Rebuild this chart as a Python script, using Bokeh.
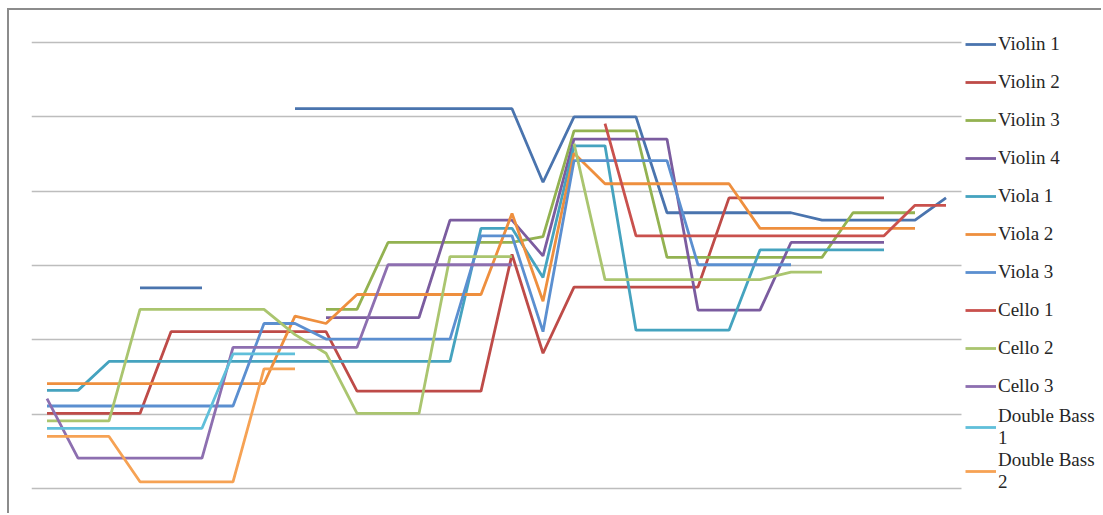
import numpy as np
from bokeh.plotting import figure
from bokeh.models import ColumnDataSource, Legend, LegendItem, FixedTicker, Range1d
from bokeh.embed import file_html
from bokeh.resources import INLINE

N = None

# Categories (points along the piece)
points = list(range(30))

# Series values (gaps = rests)
violin_1 = [N, N, N, 2.70, 2.70, 2.70, N, N, 5.11, 5.11,
            5.11, 5.11, 5.11, 5.11, 5.11, 5.11, 4.12, 5.00, 5.00, 5.00,
            3.71, 3.71, 3.71, 3.71, 3.71, 3.61, 3.61, 3.61, 3.61, 3.91]
violin_2 = [1.01, 1.01, 1.01, 1.01, 2.11, 2.11, 2.11, 2.11, 2.11, 2.11,
            1.31, 1.31, 1.31, 1.31, 1.31, 3.15, 1.82, 2.71, 2.71, 2.71,
            2.71, 2.71, 3.91, 3.91, 3.91, 3.91, 3.91, 3.91, N, N]
violin_3 = [N, N, N, N, N, N, N, N, N, 2.41,
            2.41, 3.31, 3.31, 3.31, 3.31, 3.31, 3.39, 4.81, 4.81, 4.81,
            3.11, 3.11, 3.11, 3.11, 3.11, 3.11, 3.71, 3.71, 3.71, N]
violin_4 = [N, N, N, N, N, N, N, N, N, 2.30,
            2.30, 2.30, 2.30, 3.61, 3.61, 3.61, 3.13, 4.70, 4.70, 4.70,
            4.70, 2.40, 2.40, 2.40, 3.31, 3.31, 3.31, 3.31, N, N]
viola_1 = [1.32, 1.32, 1.71, 1.71, 1.71, 1.71, 1.71, 1.71, 1.71, 1.71,
           1.71, 1.71, 1.71, 1.71, 3.50, 3.50, 2.84, 4.61, 4.61, 2.13,
           2.13, 2.13, 2.13, 3.21, 3.21, 3.21, 3.21, 3.21, N, N]
viola_2 = [1.41, 1.41, 1.41, 1.41, 1.41, 1.41, 1.41, 1.41, 2.32, 2.22,
           2.61, 2.61, 2.61, 2.61, 2.61, 3.70, 2.52, 4.51, 4.10, 4.10,
           4.10, 4.10, 4.10, 3.50, 3.50, 3.50, 3.50, 3.50, 3.50, N]
viola_3 = [1.11, 1.11, 1.11, 1.11, 1.11, 1.11, 1.11, 2.22, 2.22, 2.01,
           2.01, 2.01, 2.01, 2.01, 3.40, 3.40, 2.11, 4.41, 4.41, 4.41,
           4.41, 3.01, 3.01, 3.01, 3.01, N, N, N, N, N]
cello_1 = [N, N, N, N, N, N, N, N, N, N,
           N, N, N, N, N, N, N, N, 4.91, 3.40,
           3.40, 3.40, 3.40, 3.40, 3.40, 3.40, 3.40, 3.40, 3.81, 3.81]
cello_2 = [0.91, 0.91, 0.91, 2.41, 2.41, 2.41, 2.41, 2.41, 2.07, 1.82,
           1.01, 1.01, 1.01, 3.12, 3.12, 3.12, N, 4.64, 2.81, 2.81,
           2.81, 2.81, 2.81, 2.81, 2.91, 2.91, N, N, N, N]
cello_3 = [1.21, 0.41, 0.41, 0.41, 0.41, 0.41, 1.90, 1.90, 1.90, 1.90,
           1.90, 3.01, 3.01, 3.01, 3.01, 3.01, N, N, N, N,
           N, N, N, N, N, N, N, N, N, N]
double_bass_1 = [0.81, 0.81, 0.81, 0.81, 0.81, 0.81, 1.81, 1.81, 1.81, N,
                 N, N, N, N, N, N, N, N, N, N,
                 N, N, N, N, N, N, N, N, N, N]
double_bass_2 = [0.70, 0.70, 0.70, 0.09, 0.09, 0.09, 0.09, 1.61, 1.61, N,
                 N, N, N, N, N, N, N, N, N, N,
                 N, N, N, N, N, N, N, N, N, N]

series_names = ["Violin 1", "Violin 2", "Violin 3", "Violin 4", "Viola 1", "Viola 2",
                "Viola 3", "Cello 1", "Cello 2", "Cello 3", "Double Bass\n1", "Double Bass\n2"]
series_values = [violin_1, violin_2, violin_3, violin_4, viola_1, viola_2,
                 viola_3, cello_1, cello_2, cello_3, double_bass_1, double_bass_2]
series_colors = ["#4A74AE", "#BE4B48", "#93B251", "#7B5C9F", "#45A3BF", "#EE8F3E",
                 "#5B8FD0", "#C9514D", "#AAC56F", "#8D6FB0", "#60BFDA", "#F6A254"]

grid_ticks = [0, 1, 2, 3, 4, 5, 6]

# plot area: categories span (-0.5, 29.5); extra room on the right holds the legend
p = figure(width=1094, height=505, output_backend="svg", toolbar_location=None,
           x_range=Range1d(-0.5, 34.08), y_range=Range1d(-0.3632, 6.4308),
           x_axis_location=None, y_axis_location=None, title=None,
           min_border_left=22, min_border_right=0, min_border_top=0, min_border_bottom=0)
p.styles = {"border-left": "2px solid #8c8c8c", "border-top": "2px solid #8c8c8c",
            "margin-left": "7px", "margin-top": "8px"}
p.background_fill_color = "white"
p.border_fill_color = "white"
p.outline_line_color = None
p.xgrid.visible = False
p.ygrid.ticker = FixedTicker(ticks=grid_ticks)
p.ygrid.grid_line_color = "#BDBDBD"
p.ygrid.grid_line_width = 1.6
p.ygrid.cross_bounds = (points[0] - 0.5, points[-1] + 0.5)

items = []
for name, vals, col in zip(series_names, series_values, series_colors):
    src = ColumnDataSource(dict(x=points, y=np.array([np.nan if v is None else v for v in vals], dtype=float)))
    r = p.line("x", "y", source=src, line_color=col, line_width=2.8)
    items.append(LegendItem(label=name, renderers=[r]))

legend = Legend(items=items, location=(934, 22.5), margin=0, padding=5, spacing=0,
                label_height=38, glyph_height=20, glyph_width=31, label_standoff=2,
                label_text_font="Liberation Serif", label_text_font_size="19px",
                label_text_color="#262626", label_text_line_height=1.0,
                border_line_color=None, background_fill_alpha=0)
p.add_layout(legend, "center")

open("out.html", "w").write(file_html(p, INLINE))
